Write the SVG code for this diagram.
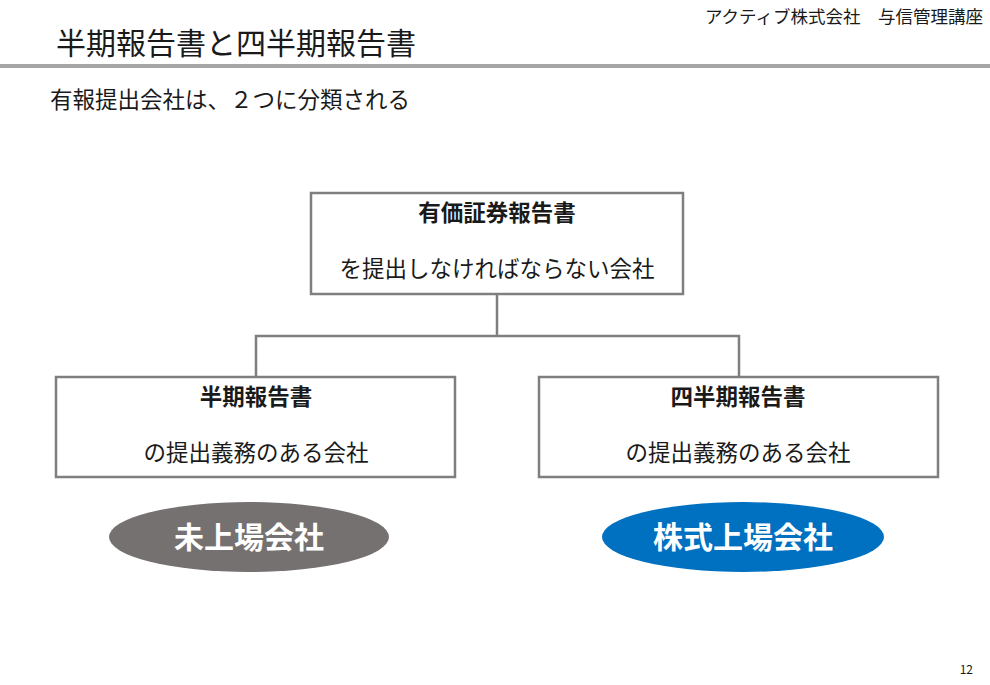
<svg xmlns="http://www.w3.org/2000/svg" width="990" height="685" viewBox="0 0 990 685">
<style>
text{font-family:"Noto Sans CJK JP","Noto Sans",sans-serif;fill:#1a1a1a}
.box{fill:#fff;stroke:#7f7f7f;stroke-width:2.5}
.b{font-weight:bold;font-size:22.5px}
.n{font-size:22.5px}
.conn{fill:none;stroke:#7f7f7f;stroke-width:2.5}
</style>
<rect width="990" height="685" fill="#fff"/>
<text x="983" y="23" font-size="17.5" text-anchor="end">アクティブ株式会社　与信管理講座</text>
<text x="56" y="54" font-size="30">半期報告書と四半期報告書</text>
<rect x="0" y="64" width="990" height="4" fill="#a6a6a6"/>
<text x="50" y="108" font-size="22.5">有報提出会社は、２つに分類される</text>
<g id="connectors">
<path class="conn" d="M497 294V336M256 377V336H739V377"/>
</g>
<g id="top"><rect class="box" x="311" y="193" width="372" height="101"/>
<text class="b" x="497" y="221" text-anchor="middle">有価証券報告書</text>
<text class="n" x="497" y="277" text-anchor="middle">を提出しなければならない会社</text></g>
<g id="left"><rect class="box" x="56" y="377" width="399" height="100"/>
<text class="b" x="256" y="405" text-anchor="middle">半期報告書</text>
<text class="n" x="256" y="461" text-anchor="middle">の提出義務のある会社</text></g>
<g id="right"><rect class="box" x="539" y="377" width="399" height="100"/>
<text class="b" x="738" y="405" text-anchor="middle">四半期報告書</text>
<text class="n" x="738" y="461" text-anchor="middle">の提出義務のある会社</text></g>
<g id="unlisted"><ellipse cx="249" cy="537" rx="140" ry="35" fill="#767171"/>
<text x="249" y="548" font-size="30" font-weight="bold" text-anchor="middle" style="fill:#fff">未上場会社</text></g>
<g id="listed"><ellipse cx="743" cy="537" rx="141" ry="35" fill="#0070c0"/>
<text x="743" y="548" font-size="30" font-weight="bold" text-anchor="middle" style="fill:#fff">株式上場会社</text></g>
<text x="973" y="674" font-size="12" text-anchor="end">12</text>
</svg>
